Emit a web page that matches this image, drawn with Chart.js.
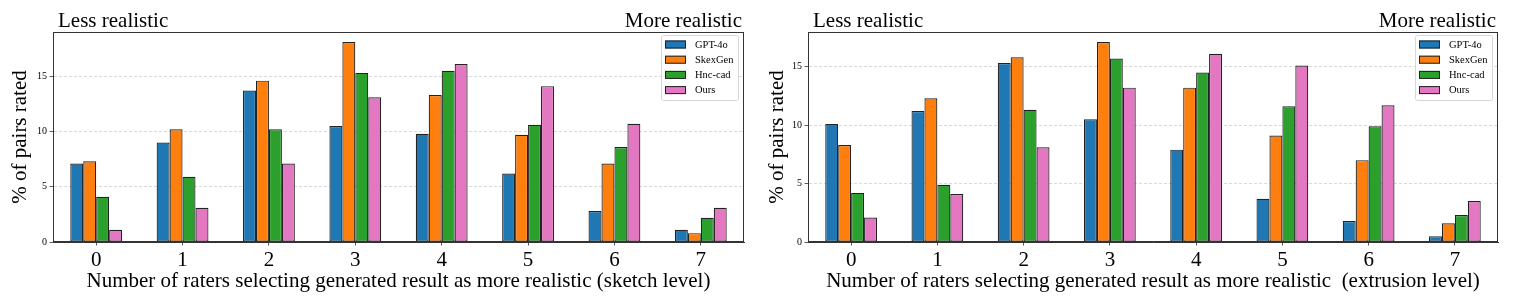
<!DOCTYPE html>
<html>
<head>
<meta charset="utf-8">
<script src="https://cdn.jsdelivr.net/npm/chart.js@4/dist/chart.umd.min.js"></script>
<style>
  body { margin: 0; background: #fff; }
  .wrap { position: absolute; top: 0; height: 305px; }
</style>
</head>
<body>
<div class="wrap" style="left:0;width:760px"><canvas id="sketchChart" width="760" height="305"></canvas></div>
<div class="wrap" style="left:760px;width:762px"><canvas id="extrusionChart" width="762" height="305"></canvas></div>
<script>
const categories = ['0', '1', '2', '3', '4', '5', '6', '7'];
const methods = ['GPT-4o', 'SkexGen', 'Hnc-cad', 'Ours'];
const colors = ['#1f77b4', '#ff7f0e', '#2ca02c', '#e377c2'];

// sketch level
const sketchGpt = [7.1, 9.0, 13.7, 10.5, 9.8, 6.2, 2.8, 1.1];
const sketchSkex = [7.3, 10.2, 14.6, 18.1, 13.3, 9.7, 7.1, 0.8];
const sketchHnc = [4.1, 5.9, 10.2, 15.3, 15.5, 10.6, 8.6, 2.2];
const sketchOurs = [1.1, 3.1, 7.1, 13.1, 16.1, 14.1, 10.7, 3.1];

// extrusion level
const extGpt = [10.1, 11.2, 15.3, 10.5, 7.9, 3.7, 1.8, 0.5];
const extSkex = [8.3, 12.3, 15.8, 17.1, 13.2, 9.1, 7.0, 1.6];
const extHnc = [4.2, 4.9, 11.3, 15.7, 14.5, 11.6, 9.9, 2.3];
const extOurs = [2.1, 4.1, 8.1, 13.2, 16.1, 15.1, 11.7, 3.5];

const yTicks = [0, 5, 10, 15];
const serif = '"Liberation Serif", "Times New Roman", serif';

const frameAndText = {
    id: 'frameAndText',
    afterDatasetsDraw(chart) {
        const { ctx, chartArea } = chart;
        const l = Math.round(chartArea.left) + 0.5, r = Math.round(chartArea.right) - 0.5;
        const t = Math.round(chartArea.top) + 0.5, b = Math.round(chartArea.bottom) - 0.5;
        ctx.save();
        ctx.strokeStyle = '#333';
        ctx.lineWidth = 1;
        ctx.strokeRect(l, t, r - l, b - t);

        // legend
        const w = 77, h = 65;
        const x = chartArea.right - 6 - w, y = chartArea.top + 3;
        ctx.fillStyle = 'rgba(255,255,255,0.85)';
        ctx.strokeStyle = '#d6d6d6';
        ctx.beginPath();
        ctx.roundRect(x + 0.5, y + 0.5, w, h, 2);
        ctx.fill();
        ctx.stroke();
        ctx.font = '10.5px ' + serif;
        ctx.textBaseline = 'middle';
        chart.data.datasets.forEach((ds, i) => {
            const cy = y + 9.5 + i * 15.2;
            ctx.fillStyle = ds.backgroundColor;
            ctx.fillRect(x + 4, cy - 4, 21, 8);
            ctx.strokeStyle = '#222';
            ctx.strokeRect(x + 4.5, cy - 3.5, 20, 7);
            ctx.fillStyle = '#000';
            ctx.fillText(ds.label, x + 34, cy + 0.5);
        });

        ctx.font = '21px ' + serif;
        ctx.textBaseline = 'alphabetic';
        ctx.textAlign = 'left';
        ctx.fillText('Less realistic', chartArea.left + 5, 27);
        ctx.textAlign = 'right';
        ctx.fillText('More realistic', chartArea.right - 2, 27);
        ctx.restore();
    }
};

function makeChart(id, series, yMax, xTitle, rightPad, yTitlePad) {
    const ctx = document.getElementById(id).getContext('2d');
    return new Chart(ctx, {
        type: 'bar',
        data: {
            labels: categories,
            datasets: series.map((s, i) => ({
                label: methods[i],
                data: s,
                backgroundColor: colors[i],
                borderColor: '#222',
                borderWidth: 1.2,
                borderSkipped: false,
                categoryPercentage: 0.6,
                barPercentage: 1.0
            }))
        },
        options: {
            responsive: false,
            devicePixelRatio: 1,
            animation: false,
            layout: { padding: { top: 32, right: rightPad, bottom: 0, left: 0 } },
            plugins: {
                legend: { display: false },
                tooltip: { enabled: false }
            },
            scales: {
                x: {
                    grid: {
                        display: true,
                        offset: false,
                        drawOnChartArea: false,
                        drawTicks: true,
                        tickLength: 3.5,
                        tickColor: '#555'
                    },
                    border: { display: true, color: '#333', width: 1 },
                    ticks: { color: '#000', font: { family: serif, size: 21 }, padding: 2.5 },
                    title: {
                        display: true,
                        text: xTitle,
                        color: '#000',
                        font: { family: serif, size: 21 },
                        padding: { top: 0, bottom: 11 }
                    },
                    afterFit: s => { s.height = 63; }
                },
                y: {
                    min: 0,
                    max: yMax,
                    afterBuildTicks: s => { s.ticks = yTicks.map(v => ({ value: v })); },
                    grid: {
                        color: '#cfcfcf',
                        tickColor: '#333',
                        tickLength: 3.5,
                        lineWidth: 0.8
                    },
                    border: { display: true, color: '#333', width: 1, dash: [3, 2] },
                    ticks: { color: '#000', font: { family: serif, size: 10 }, padding: 2.5 },
                    title: {
                        display: true,
                        text: '% of pairs rated',
                        color: '#000',
                        font: { family: serif, size: 21 },
                        padding: { top: yTitlePad, bottom: 0 }
                    },
                    afterFit: s => { s.width = id === 'sketchChart' ? 53 : 48; }
                }
            }
        },
        plugins: [frameAndText]
    });
}

document.addEventListener('DOMContentLoaded', function () {
    makeChart('sketchChart', [sketchGpt, sketchSkex, sketchHnc, sketchOurs], 19,
        'Number of raters selecting generated result as more realistic (sketch level)', 16, 7.6);
    makeChart('extrusionChart', [extGpt, extSkex, extHnc, extOurs], 17.96,
        'Number of raters selecting generated result as more realistic  (extrusion level)', 24, 4.8);
});
</script>
</body>
</html>
